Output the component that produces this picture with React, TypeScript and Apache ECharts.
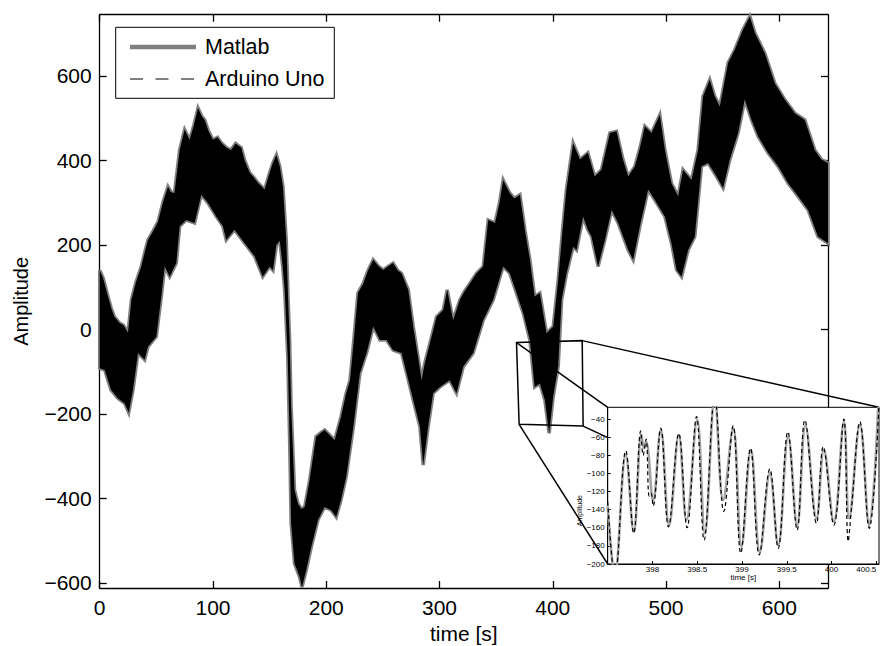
import { useEffect, useRef } from 'react';
import * as echarts from 'echarts';

const FONT = '"Liberation Sans", Arial, Helvetica, sans-serif';

// Full record: upper and lower envelope of the fast oscillation, [time s, amplitude]
const envelopeUpper: [number, number][] = [
  [0, 140], [3, 122], [7.3, 78], [10, 52], [13, 30], [17.6, 15], [21, 10], [25, -8], [28, 70], [32, 112],
  [36.7, 149], [40, 185], [42.6, 212], [47, 232], [51.5, 255], [56, 302], [60.3, 338], [63, 325], [66, 323],
  [70.6, 425], [75, 473], [79.4, 449], [83, 482], [86.8, 524], [90, 505], [92.7, 496], [96, 470], [100, 449],
  [104, 455], [107.4, 442], [112, 430], [116, 425], [120, 440], [125, 430], [128, 400], [132.4, 371],
  [136, 360], [139.7, 347], [145.6, 331], [150, 371], [153, 395], [156, 413], [159, 386], [161.8, 338],
  [164.7, 212], [166.5, 60], [167.7, -25], [169, -183], [172, -380], [175, -412], [178, -425], [181, -420],
  [185.3, -357], [191, -254], [195, -245], [198.6, -238], [203, -250], [207.4, -262], [213, -207],
  [217.6, -151], [221, -120], [223.8, -41], [228, 86], [232.7, 109], [237, 140], [241.5, 165], [246, 150],
  [250.3, 141], [255, 150], [259, 157], [263, 140], [266.5, 133], [272.4, 94], [276.8, 7], [281, -64],
  [284.2, -120], [287, -80], [291.5, -33], [297.4, 30], [303.3, 46], [306.8, 94], [312, 22], [318, 70],
  [322, 90], [326.8, 109], [332.7, 133], [338.6, 149], [343, 259], [349, 252], [353, 300], [356.2, 354],
  [362, 323], [366, 310], [371, 319], [375.4, 236], [379.8, 165], [384, 78], [388.6, 86], [394.5, -9],
  [400.4, 7], [404.8, 117], [409.2, 252], [412, 330], [415, 386], [418, 441], [424, 402], [431, 418],
  [437, 362], [443, 378], [450.4, 465], [456.3, 469], [462, 402], [466.6, 362], [472.5, 386], [477, 430],
  [481.3, 481], [487.2, 465], [494.5, 508], [499, 425], [504.8, 346], [510.7, 315], [515, 378], [522.5, 354],
  [528.3, 425], [532.7, 552], [538.6, 591], [543, 552], [547.5, 528], [554.8, 631], [560.7, 662], [568, 710],
  [574, 741], [578.4, 702], [587.2, 654], [596, 583], [604.8, 544], [613.7, 512], [622.5, 496], [631.3, 425],
  [637.2, 402], [643, 394],
];

const envelopeLower: [number, number][] = [
  [0, -92], [4.4, -96], [10, -143], [16, -163], [22, -175], [25.6, -197], [29.4, -143], [33.8, -56],
  [39.7, -72], [42.6, -41], [46, -30], [50, -17], [54.4, 78], [57.4, 149], [61.8, 125], [67.6, 157],
  [70.6, 244], [76.4, 259], [83.8, 252], [89.7, 319], [95.6, 299], [103, 267], [108.8, 244], [111.7, 212],
  [119, 236], [128, 204], [136.8, 173], [144, 125], [150, 149], [153, 140], [156, 200], [159, 210],
  [161.5, 150], [163.3, 94], [166, -64], [167.7, -262], [169, -459], [172, -554], [176.5, -586],
  [178.6, -610], [182.3, -570], [186.8, -515], [192.7, -451], [198.6, -420], [204.4, -428], [208.8, -444],
  [213, -404], [217.6, -349], [224, -230], [229.7, -104], [235.6, -56], [241.5, 7], [247.4, -25],
  [253.3, -25], [259, -49], [266.5, -56], [271, -104], [276.8, -167], [282.7, -230], [285.6, -321],
  [290, -230], [294.4, -151], [300.4, -136], [309, -120], [315, -151], [321, -88], [329.7, -56], [338.6, 22],
  [347.4, 70], [356.2, 149], [362, 133], [368, 86], [374, 38], [379.8, -25], [384, -136], [388.6, -128],
  [393, -167], [396.8, -246], [400.4, -159], [404.8, -88], [407.8, 70], [412.2, 133], [418, 196], [421, 188],
  [426.8, 267], [431, 236], [434.2, 220], [440, 149], [446, 212], [452, 283], [457.7, 252], [466.6, 188],
  [471, 165], [476.9, 244], [484.2, 331], [490, 307], [499, 267], [504.8, 204], [509.3, 141], [513.7, 125],
  [519.5, 188], [525.4, 220], [531.3, 386], [537.2, 394], [544.6, 362], [550.4, 335], [556.3, 402],
  [563.6, 465], [569.5, 544], [575.5, 496], [581.3, 457], [590, 418], [599, 386], [607.8, 346], [616.6, 315],
  [625.4, 283], [634.2, 220], [643, 204],
];

const mainXTicks = [0, 100, 200, 300, 400, 500, 600];
const mainYTicks = [-600, -400, -200, 0, 200, 400, 600];

// Close-up of the two recordings between 397.5 s and 400.5 s
const detailMatlab: [number, number][] = [
  [397.5, -135], [397.579, -212], [397.702, -79.7], [397.791, -164.3], [397.877, -57.7], [397.903, -71.6],
  [397.929, -65], [398.007, -129.4], [398.093, -52.1], [398.186, -157], [398.294, -57.7], [398.38, -151.4],
  [398.499, -41.1], [398.585, -166.2], [398.696, -17], [398.79, -129.4], [398.901, -50.3], [398.994, -180.9],
  [399.099, -74.2], [399.199, -186.4], [399.311, -100], [399.404, -179], [399.516, -59.5], [399.616, -157],
  [399.709, -47.4], [399.832, -149.6], [399.914, -74.2], [400.026, -153.3], [400.138, -43], [400.197, -149.6],
  [400.317, -46.6], [400.421, -157], [400.521, -26.4],
];

const detailArduino: [number, number][] = [
  [397.5, -131], [397.58, -214], [397.702, -75], [397.791, -166], [397.869, -53], [397.896, -80],
  [397.929, -62], [397.963, -125], [397.985, -122], [398.007, -136], [398.093, -50], [398.179, -159],
  [398.294, -55.8], [398.387, -160], [398.492, -37.4], [398.577, -173.5], [398.696, -15], [398.797, -142],
  [398.901, -47.4], [398.986, -188], [399.095, -72.4], [399.192, -190], [399.311, -95], [399.404, -182.7],
  [399.512, -54], [399.616, -162.5], [399.702, -41], [399.832, -155], [399.907, -70.5], [400.026, -157],
  [400.138, -40], [400.186, -175], [400.223, -138.6], [400.317, -43], [400.421, -160.6], [400.529, -26],
];

const detailXTicks = [398, 398.5, 399, 399.5, 400, 400.5];
const detailYTicks = [-200, -180, -160, -140, -120, -100, -80, -60, -40];

// Zoomed region marked on the full record (corners TL, TR, BR, BL in data units)
const zoomBox: [number, number][] = [[368.0, -31], [426.0, -26.5], [426.8, -228.7], [370.3, -224.6]];

const MAIN = { left: 99.7, top: 14.7, width: 728.3, height: 573.3 };
const DETAIL = { left: 607.7, top: 407.3, width: 271.3, height: 156.7 };

const minus = (v: number) => (v < 0 ? '\u2212' + String(Math.abs(v)) : String(v));

function axisBase(color = '#000', width = 1.3) {
  return {
    type: 'value' as const,
    axisLine: { show: true, onZero: false, lineStyle: { color, width } },
    splitLine: { show: false },
  };
}

export default function App() {
  const ref = useRef<HTMLDivElement>(null);

  useEffect(() => {
    if (!ref.current) return;
    const chart = echarts.init(ref.current, undefined, { renderer: 'svg' });

    const bandPolygon: [number, number][] = [...envelopeUpper, ...envelopeLower.slice().reverse()];

    const polygonSeries = (name: string, fill: string, stroke: string, lineWidth: number, z: number) => ({
      type: 'custom' as const,
      name,
      xAxisIndex: 0,
      yAxisIndex: 0,
      z,
      silent: true,
      data: bandPolygon,
      encode: { x: 0, y: 1 },
      renderItem: (params: any, api: any) => {
        if (params.dataIndex !== 0) return null;
        const pts = bandPolygon.map((p) => api.coord(p));
        return {
          type: 'polygon',
          shape: { points: pts },
          style: { fill, stroke, lineWidth, lineJoin: 'miter', miterLimit: 4 },
        };
      },
    });

    const mainTick = (values: number[]) => ({
      show: true,
      inside: true,
      length: 7,
      customValues: values,
      lineStyle: { color: '#000', width: 1.3 },
    });
    const detailTick = (values: number[]) => ({
      show: true,
      inside: true,
      length: 3,
      customValues: values,
      lineStyle: { color: '#000', width: 1 },
    });

    const option: any = {
      animation: false,
      backgroundColor: '#fff',
      grid: [
        { ...MAIN, show: false, containLabel: false, outerBoundsMode: 'none' },
        {
          ...DETAIL,
          show: true,
          containLabel: false,
          outerBoundsMode: 'none',
          backgroundColor: '#fff',
          borderColor: '#000',
          borderWidth: 1,
          z: 10,
        },
      ],
      xAxis: [
        {
          ...axisBase(),
          gridIndex: 0,
          position: 'bottom',
          min: 0,
          max: 643,
          axisTick: mainTick(mainXTicks),
          axisLabel: {
            customValues: mainXTicks,
            formatter: minus,
            color: '#000',
            fontSize: 21,
            fontFamily: FONT,
            margin: 9,
          },
          name: 'time [s]',
          nameLocation: 'middle',
          nameGap: 32,
          nameTextStyle: { color: '#000', fontSize: 21, fontFamily: FONT },
        },
        {
          ...axisBase(),
          gridIndex: 0,
          position: 'top',
          min: 0,
          max: 643,
          axisTick: mainTick(mainXTicks),
          axisLabel: { show: false },
        },
        {
          ...axisBase('#000', 1),
          gridIndex: 1,
          position: 'bottom',
          min: 397.5,
          max: 400.53,
          z: 12,
          axisTick: detailTick(detailXTicks),
          axisLabel: {
            customValues: detailXTicks,
            formatter: (v: number) => String(v),
            color: '#000',
            fontSize: 8,
            fontFamily: FONT,
            margin: 1,
            alignMaxLabel: 'right',
          },
          name: 'time [s]',
          nameLocation: 'middle',
          nameGap: 9,
          nameTextStyle: { color: '#000', fontSize: 8, fontFamily: FONT },
        },
      ],
      yAxis: [
        {
          ...axisBase(),
          gridIndex: 0,
          position: 'left',
          min: -612,
          max: 745,
          axisTick: mainTick(mainYTicks),
          axisLabel: {
            customValues: mainYTicks,
            formatter: minus,
            color: '#000',
            fontSize: 21,
            fontFamily: FONT,
            margin: 8,
          },
          name: 'Amplitude',
          nameLocation: 'middle',
          nameGap: 69,
          nameRotate: 90,
          nameTextStyle: { color: '#000', fontSize: 20, fontFamily: FONT },
        },
        {
          ...axisBase(),
          gridIndex: 0,
          position: 'right',
          min: -612,
          max: 745,
          axisTick: mainTick(mainYTicks),
          axisLabel: { show: false },
        },
        {
          ...axisBase('#000', 1),
          gridIndex: 1,
          position: 'left',
          min: -200,
          max: -27,
          z: 12,
          axisTick: detailTick(detailYTicks),
          axisLabel: {
            customValues: detailYTicks,
            formatter: minus,
            color: '#000',
            fontSize: 8,
            fontFamily: FONT,
            margin: 3,
          },
          name: 'Amplitude',
          nameLocation: 'middle',
          nameGap: 17,
          nameRotate: 90,
          nameTextStyle: { color: '#000', fontSize: 7, fontFamily: FONT, padding: [0, 50, 0, 0] },
        },
      ],
      series: [
        polygonSeries('Matlab', '#7f7f7f', '#7f7f7f', 3.5, 2),
        polygonSeries('Arduino Uno', '#000', 'none', 0, 3),
        {
          type: 'line',
          name: 'Matlab',
          xAxisIndex: 2,
          yAxisIndex: 2,
          z: 13,
          data: detailMatlab,
          smooth: 0.4,
          showSymbol: false,
          silent: true,
          lineStyle: { color: '#a3a3a3', width: 2.6 },
        },
        {
          type: 'line',
          name: 'Arduino Uno',
          xAxisIndex: 2,
          yAxisIndex: 2,
          z: 14,
          data: detailArduino,
          smooth: 0.4,
          showSymbol: false,
          silent: true,
          lineStyle: { color: '#000', width: 1.2, type: [4, 3] },
        },
      ],
    };

    chart.setOption(option);

    // Zoom marker and connector lines, placed through the main axes' scales
    const box = zoomBox.map((p) => chart.convertToPixel({ xAxisIndex: 0, yAxisIndex: 0 }, p) as number[]);
    const dl = DETAIL.left;
    const dt = DETAIL.top;
    const dr = DETAIL.left + DETAIL.width;
    const db = DETAIL.top + DETAIL.height;
    const targets = [[dl, dt], [dr, dt], [dr, db], [dl, db]];
    const connectors = box.map((p, i) => ({
      type: 'line',
      z: 4,
      silent: true,
      shape: { x1: p[0], y1: p[1], x2: targets[i][0], y2: targets[i][1] },
      style: { stroke: '#000', lineWidth: 1.5 },
    }));

    chart.setOption({
      graphic: [
        {
          type: 'polygon',
          z: 4,
          silent: true,
          shape: { points: box },
          style: { fill: 'none', stroke: '#000', lineWidth: 1.5 },
        },
        ...connectors,
        // legend box
        {
          type: 'rect',
          z: 20,
          silent: true,
          shape: { x: 115.7, y: 27.3, width: 218.6, height: 71 },
          style: { fill: '#fff', stroke: '#000', lineWidth: 1 },
        },
        {
          type: 'line',
          z: 21,
          silent: true,
          shape: { x1: 130, y1: 47, x2: 196, y2: 47 },
          style: { stroke: '#7f7f7f', lineWidth: 4.5 },
        },
        {
          type: 'line',
          z: 21,
          silent: true,
          shape: { x1: 130, y1: 79, x2: 196, y2: 79 },
          style: { stroke: '#000', lineWidth: 1.2, lineDash: [13, 12.5] },
        },
        {
          type: 'text',
          z: 21,
          silent: true,
          x: 205,
          y: 47,
          style: { text: 'Matlab', fill: '#000', font: `21.5px ${FONT}`, textVerticalAlign: 'middle' },
        },
        {
          type: 'text',
          z: 21,
          silent: true,
          x: 205,
          y: 79,
          style: { text: 'Arduino Uno', fill: '#000', font: `21.5px ${FONT}`, textVerticalAlign: 'middle' },
        },
      ],
    });

    return () => chart.dispose();
  }, []);

  return (
    <div
      ref={ref}
      style={{ position: 'absolute', left: 0, top: 0, width: 880, height: 646, background: '#fff' }}
    />
  );
}
